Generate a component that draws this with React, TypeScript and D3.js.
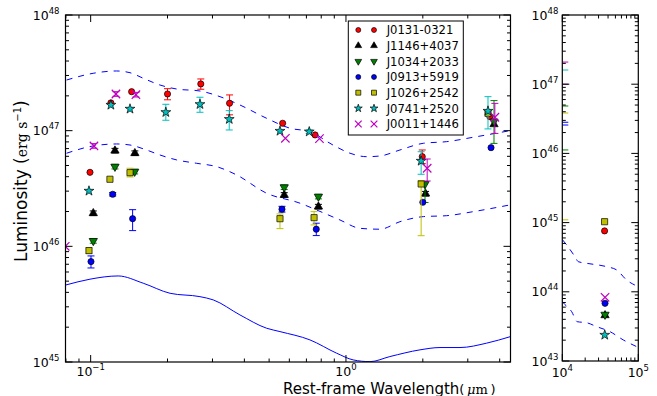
import { useEffect, useRef } from 'react'
import * as d3 from 'd3'

// frame geometry
const W = 657
const H = 396
const main = { left: 65.5, right: 510.5, top: 15, bottom: 362 }
const side = { left: 562.3, right: 638.3, top: 15, bottom: 361 }

// model curves (wavelength in micron, log10 luminosity)
const upperWave = [0.0805, 0.1023, 0.1264, 0.1426, 0.1607, 0.1867, 0.2173, 0.268, 0.321, 0.3844, 0.4889, 0.604, 0.7228, 0.889, 1.037, 1.205, 1.359, 1.627, 2.01, 2.479, 3.152, 4.39]
const upperLum = [47.438, 47.496, 47.516, 47.501, 47.453, 47.395, 47.36, 47.343, 47.294, 47.222, 47.107, 47.021, 46.991, 46.876, 46.805, 46.775, 46.781, 46.833, 46.891, 46.905, 46.943, 47.0]
const lowerWave = [0.0805, 0.1023, 0.1264, 0.1426, 0.1656, 0.1867, 0.2173, 0.26, 0.3114, 0.3733, 0.4889, 0.6607, 0.7679, 0.9473, 1.134, 1.359, 1.627, 2.01, 2.479, 3.152, 4.39]
const lowerLum = [46.805, 46.868, 46.885, 46.876, 46.833, 46.79, 46.747, 46.718, 46.689, 46.617, 46.459, 46.373, 46.314, 46.228, 46.156, 46.148, 46.213, 46.257, 46.265, 46.3, 46.358]
const solidWave = [0.08, 0.0994, 0.1282, 0.1607, 0.2047, 0.268, 0.302, 0.3844, 0.4889, 0.5513, 0.7228, 0.9197, 1.068, 1.242, 1.486, 1.949, 2.335, 2.797, 3.556, 4.414]
const solidLum = [45.666, 45.716, 45.744, 45.681, 45.594, 45.565, 45.537, 45.407, 45.292, 45.263, 45.191, 45.076, 45.018, 45.003, 45.047, 45.105, 45.125, 45.125, 45.163, 45.22]

// side panel curves
const sideUpperWave = [10110, 11430, 14690, 16260, 20940, 38370, 52000, 70300, 100000]
const sideUpperLum = [44.749, 44.676, 44.507, 44.435, 44.412, 44.363, 44.315, 44.17, 44.074]
const sideLowerWave = [10000, 10300, 13300, 15740, 20940, 28380, 42460, 63530, 95300]
const sideLowerLum = [43.86, 43.842, 43.712, 43.568, 43.553, 43.496, 43.424, 43.304, 43.207]

const names = ['J0131-0321', 'J1146+4037', 'J1034+2033', 'J0913+5919', 'J1026+2542', 'J0741+2520', 'J0011+1446']
const colors = ['#ff0000', '#000000', '#007f00', '#0000ff', '#bfbf00', '#00bfbf', '#bf00bf']
const shapes = ['circle', 'triUp', 'triDown', 'circle', 'square', 'star', 'x']

const waves = [
  [0.0994, 0.12, 0.1447, 0.2, 0.27, 0.35, 0.565, 0.757, 1.99, 3.66],
  [0.1024, 0.1245, 0.149, 0.573, 0.78, 2.05, 3.8],
  [0.1024, 0.1245, 0.1487, 0.573, 0.78, 2.04, 3.8],
  [0.1003, 0.122, 0.146, 0.5615, 0.765, 2.0, 3.7],
  [0.0985, 0.119, 0.1426, 0.5515, 0.75, 1.97, 3.6],
  [0.0985, 0.12, 0.1426, 0.197, 0.268, 0.349, 0.5515, 0.718, 1.97, 3.6],
  [0.0795, 0.103, 0.1256, 0.1504, 0.579, 0.7875, 2.08, 3.83],
]
const lums = [
  [46.64, 47.24, 47.337, 47.317, 47.404, 47.237, 47.064, 46.963, 46.775, 47.121],
  [46.286, 46.827, 46.805, 46.444, 46.343, 46.455, 47.055],
  [46.047, 46.689, 46.646, 46.511, 46.43, 46.539, 47.08],
  [45.868, 46.45, 46.239, 46.321, 46.148, 46.381, 46.853],
  [45.963, 46.58, 46.637, 46.239, 46.248, 46.539, 47.15],
  [46.479, 47.222, 47.188, 47.159, 47.228, 47.099, 46.997, 46.991, 46.738, 47.17],
  [46.0, 46.868, 47.317, 47.311, 46.934, 46.931, 46.675, 47.116],
]
const errLo = [
  [0, 0, 0, 0.05, 0.046, 0.1, 0, 0, 0.06, 0],
  [0.02, 0.02, 0.02, 0.02, 0.02, 0.02, 0],
  [0.02, 0.02, 0.02, 0.02, 0.02, 0.16, 0.19],
  [0.055, 0.015, 0.103, 0.025, 0.055, 0, 0],
  [0.025, 0, 0.037, 0.086, 0.063, 0.447, 0],
  [0, 0, 0, 0.069, 0.069, 0.093, 0, 0.015, 0.115, 0.155],
  [0, 0.02, 0.02, 0.02, 0, 0, 0.11, 0.14],
]
const errHi = [
  [0, 0, 0, 0.046, 0.043, 0.072, 0, 0, 0.058, 0],
  [0.02, 0.02, 0.02, 0.02, 0.02, 0.02, 0],
  [0.02, 0.02, 0.02, 0.02, 0.02, 0.02, 0.18],
  [0.049, 0.015, 0.078, 0.025, 0.052, 0, 0],
  [0.025, 0, 0.038, 0.041, 0.052, 0.03, 0],
  [0, 0, 0, 0.069, 0.061, 0.074, 0, 0.015, 0.08, 0.124],
  [0, 0.02, 0.02, 0.02, 0, 0, 0.08, 0.12],
]

// side panel points
const sideWave = [36000, 36500, 36500, 36500, 36000, 36200, 36500]
const sideLum = [44.88, 43.66, 43.67, 43.834, 45.013, 43.376, 43.92]

// stray caps at the left edge of the side panel
const edgeCapColor = ['#bf00bf', '#00bfbf', '#bf00bf', '#007f00', '#bfbf00', '#0000ff', '#0000ff', '#007f00', '#bfbf00']
const edgeCapLum = [47.32, 47.205, 47.0, 46.685, 46.584, 46.45, 46.41, 46.05, 45.04]

const mainYTicks = [45, 46, 47, 48]
const sideYTicks = [43, 44, 45, 46, 47, 48]

function symbolPath(shape: string, size: number) {
  const t: any = {
    circle: d3.symbolCircle,
    triUp: d3.symbolTriangle,
    triDown: d3.symbolTriangle,
    square: d3.symbolSquare,
    star: d3.symbolStar,
    x: d3.symbolTimes,
  }[shape]
  return d3.symbol(t, size)() || ''
}

const baseSize: any = { circle: 30, triUp: 30, triDown: 30, square: 38, star: 30, x: 48 }

function drawMarker(g: any, shape: string, cx: number, cy: number, color: string, k = 1) {
  const p = g.append('path')
    .attr('d', symbolPath(shape, baseSize[shape] * k))
    .attr('transform', `translate(${cx},${cy})${shape === 'triDown' ? ' rotate(180)' : ''}`)
  if (shape === 'x') {
    p.attr('fill', 'none').attr('stroke', color).attr('stroke-width', 1.2)
  } else {
    p.attr('fill', color).attr('stroke', '#000').attr('stroke-width', 0.7)
  }
}

function powLabel(g: any, x: number, y: number, exp: string, anchor: string) {
  const t = g.append('text')
    .attr('x', x).attr('y', y)
    .attr('text-anchor', anchor)
    .style('font-family', 'DejaVu Sans')
    .style('font-size', '12.5px')
    .attr('fill', '#000')
  t.append('tspan').text('10')
  t.append('tspan').attr('dy', -6).style('font-size', '8.5px').text(exp)
}

export default function App() {
  const svgRef = useRef<SVGSVGElement>(null)

  useEffect(() => {
    if (!svgRef.current) return
    const svg = d3.select(svgRef.current)
    svg.selectAll('*').remove()

    const x = d3.scaleLog().domain([0.0797, 4.41]).range([main.left, main.right])
    const y = d3.scaleLog().domain([1e45, 1e48]).range([main.bottom, main.top])
    const xs = d3.scaleLog().domain([1e4, 1e5]).range([side.left, side.right])
    const ys = d3.scaleLog().domain([1e43, 1e48]).range([side.bottom, side.top])
    const L = (v: number) => Math.pow(10, v)

    const defs = svg.append('defs')
    defs.append('clipPath').attr('id', 'clipMain').append('rect')
      .attr('x', main.left).attr('y', main.top)
      .attr('width', main.right - main.left).attr('height', main.bottom - main.top)
    defs.append('clipPath').attr('id', 'clipSide').append('rect')
      .attr('x', side.left).attr('y', side.top)
      .attr('width', side.right - side.left).attr('height', side.bottom - side.top)

    // ----- main panel -----
    const gm = svg.append('g').attr('clip-path', 'url(#clipMain)')

    const line = (xsc: any, ysc: any) => d3.line<[number, number]>()
      .x(d => xsc(d[0]))
      .y(d => ysc(L(d[1])))
      .curve(d3.curveMonotoneX)

    const dashed = [[upperWave, upperLum], [lowerWave, lowerLum]]
    dashed.forEach(([wv, lm]) => {
      gm.append('path')
        .datum(wv.map((w, i) => [w, lm[i]] as [number, number]))
        .attr('fill', 'none')
        .attr('stroke', '#0000ff')
        .attr('stroke-width', 1)
        .attr('stroke-dasharray', '6,6')
        .attr('d', line(x, y))
    })
    gm.append('path')
      .datum(solidWave.map((w, i) => [w, solidLum[i]] as [number, number]))
      .attr('fill', 'none')
      .attr('stroke', '#0000ff')
      .attr('stroke-width', 1)
      .attr('d', line(x, y))

    names.forEach((_, s) => {
      const c = colors[s]
      waves[s].forEach((w, i) => {
        const cx = x(w)
        const lo = errLo[s][i], hi = errHi[s][i]
        if (lo > 0 || hi > 0) {
          const y0 = y(L(lums[s][i] - lo)), y1 = y(L(lums[s][i] + hi))
          gm.append('line').attr('x1', cx).attr('x2', cx).attr('y1', y0).attr('y2', y1)
            .attr('stroke', c).attr('stroke-width', 1)
          ;[y0, y1].forEach(yy => {
            gm.append('line').attr('x1', cx - 3.5).attr('x2', cx + 3.5).attr('y1', yy).attr('y2', yy)
              .attr('stroke', c).attr('stroke-width', 1)
          })
        }
      })
      waves[s].forEach((w, i) => {
        drawMarker(gm, shapes[s], x(w), y(L(lums[s][i])), c)
      })
    })

    // ----- side panel -----
    const gs = svg.append('g').attr('clip-path', 'url(#clipSide)')
    ;[[sideUpperWave, sideUpperLum], [sideLowerWave, sideLowerLum]].forEach(([wv, lm]) => {
      gs.append('path')
        .datum(wv.map((w, i) => [w, lm[i]] as [number, number]))
        .attr('fill', 'none')
        .attr('stroke', '#0000ff')
        .attr('stroke-width', 1)
        .attr('stroke-dasharray', '6,6')
        .attr('d', line(xs, ys))
    })
    edgeCapLum.forEach((v, i) => {
      gs.append('line')
        .attr('x1', xs(1e4)).attr('x2', xs(1e4) + 6)
        .attr('y1', ys(L(v))).attr('y2', ys(L(v)))
        .attr('stroke', edgeCapColor[i]).attr('stroke-width', 1)
    })
    sideWave.forEach((w, s) => {
      drawMarker(gs, shapes[s], xs(w), ys(L(sideLum[s])), colors[s])
    })

    // ----- frames and ticks -----
    const tickG = svg.append('g').attr('stroke', '#000').attr('stroke-width', 1)

    const yTicks = (ysc: any, lo: number, hi: number, x0: number, x1: number) => {
      for (let e = lo; e <= hi; e++) {
        for (let m = 1; m <= 9; m++) {
          if (e === hi && m > 1) break
          const v = m * Math.pow(10, e)
          const yy = ysc(v)
          const len = m === 1 ? 7 : 3.5
          tickG.append('line').attr('x1', x0).attr('x2', x0 + len).attr('y1', yy).attr('y2', yy)
          tickG.append('line').attr('x1', x1).attr('x2', x1 - len).attr('y1', yy).attr('y2', yy)
        }
      }
    }
    const xTicks = (xsc: any, vals: number[], majors: number[], y0: number, y1: number) => {
      vals.forEach(v => {
        const xx = xsc(v)
        const len = majors.includes(v) ? 7 : 3.5
        tickG.append('line').attr('x1', xx).attr('x2', xx).attr('y1', y0).attr('y2', y0 - len)
        tickG.append('line').attr('x1', xx).attr('x2', xx).attr('y1', y1).attr('y2', y1 + len)
      })
    }

    yTicks(y, 45, 48, main.left, main.right)
    xTicks(x, [0.08, 0.09, 0.1, 0.2, 0.3, 0.4, 0.5, 0.6, 0.7, 0.8, 0.9, 1, 2, 3, 4], [0.1, 1], main.bottom, main.top)
    yTicks(ys, 43, 48, side.left, side.right)
    xTicks(xs, [1e4, 2e4, 3e4, 4e4, 5e4, 6e4, 7e4, 8e4, 9e4, 1e5], [1e4, 1e5], side.bottom, side.top)

    svg.append('rect')
      .attr('x', main.left).attr('y', main.top)
      .attr('width', main.right - main.left).attr('height', main.bottom - main.top)
      .attr('fill', 'none').attr('stroke', '#000').attr('stroke-width', 1.2)
    svg.append('rect')
      .attr('x', side.left).attr('y', side.top)
      .attr('width', side.right - side.left).attr('height', side.bottom - side.top)
      .attr('fill', 'none').attr('stroke', '#000').attr('stroke-width', 1.2)

    // tick labels
    mainYTicks.forEach(e => powLabel(svg, main.left - 6, y(L(e)) + 4.5, String(e), 'end'))
    sideYTicks.forEach(e => powLabel(svg, side.left - 4, ys(L(e)) + 4.5, String(e), 'end'))
    powLabel(svg, x(0.1), 376, '\u22121', 'middle')
    powLabel(svg, x(1), 376, '0', 'middle')
    powLabel(svg, xs(1e4), 377, '4', 'middle')
    powLabel(svg, xs(1e5), 377, '5', 'middle')

    // axis titles
    const xl = svg.append('text')
      .attr('x', 283).attr('y', 393.5)
      .style('font-family', 'DejaVu Sans')
      .style('font-size', '15px')
      .attr('fill', '#000')
    xl.append('tspan').text('Rest-frame Wavelength')
    xl.append('tspan').style('font-size', '13px').text('(\u2009')
    xl.append('tspan').style('font-size', '13px').style('font-family', 'DejaVu Serif').style('font-style', 'italic').text('\u03bc')
    xl.append('tspan').style('font-size', '13px').style('font-family', 'DejaVu Serif').text('m')
    xl.append('tspan').style('font-size', '13px').text('\u2009)')

    const yl = svg.append('text')
      .attr('transform', 'translate(27,262) rotate(-90)')
      .style('font-family', 'DejaVu Sans')
      .style('font-size', '17px')
      .attr('fill', '#000')
    yl.append('tspan').text('Luminosity (')
    yl.append('tspan').style('font-family', 'DejaVu Serif').style('font-size', '14px').text('erg s')
    yl.append('tspan').attr('dy', -6).style('font-size', '10px').text('\u22121')
    yl.append('tspan').attr('dy', 6).text(')')

    // legend
    const lg = svg.append('g')
    lg.append('rect')
      .attr('x', 348.3).attr('y', 21).attr('width', 115).attr('height', 114)
      .attr('fill', '#fff').attr('stroke', '#000').attr('stroke-width', 1)
    names.forEach((n, s) => {
      const yy = 30 + s * 15.67
      drawMarker(lg, shapes[s], 358.3, yy, colors[s], 0.65)
      drawMarker(lg, shapes[s], 374, yy, colors[s], 0.65)
      lg.append('text')
        .attr('x', 386.7).attr('y', yy + 4.2)
        .style('font-family', 'DejaVu Sans')
        .style('font-size', '11.6px')
        .attr('fill', '#000')
        .text(n)
    })
  }, [])

  return (
    <svg
      ref={svgRef}
      width={W}
      height={H}
      style={{ position: 'absolute', left: 0, top: 0, background: '#fff' }}
    ></svg>
  )
}
